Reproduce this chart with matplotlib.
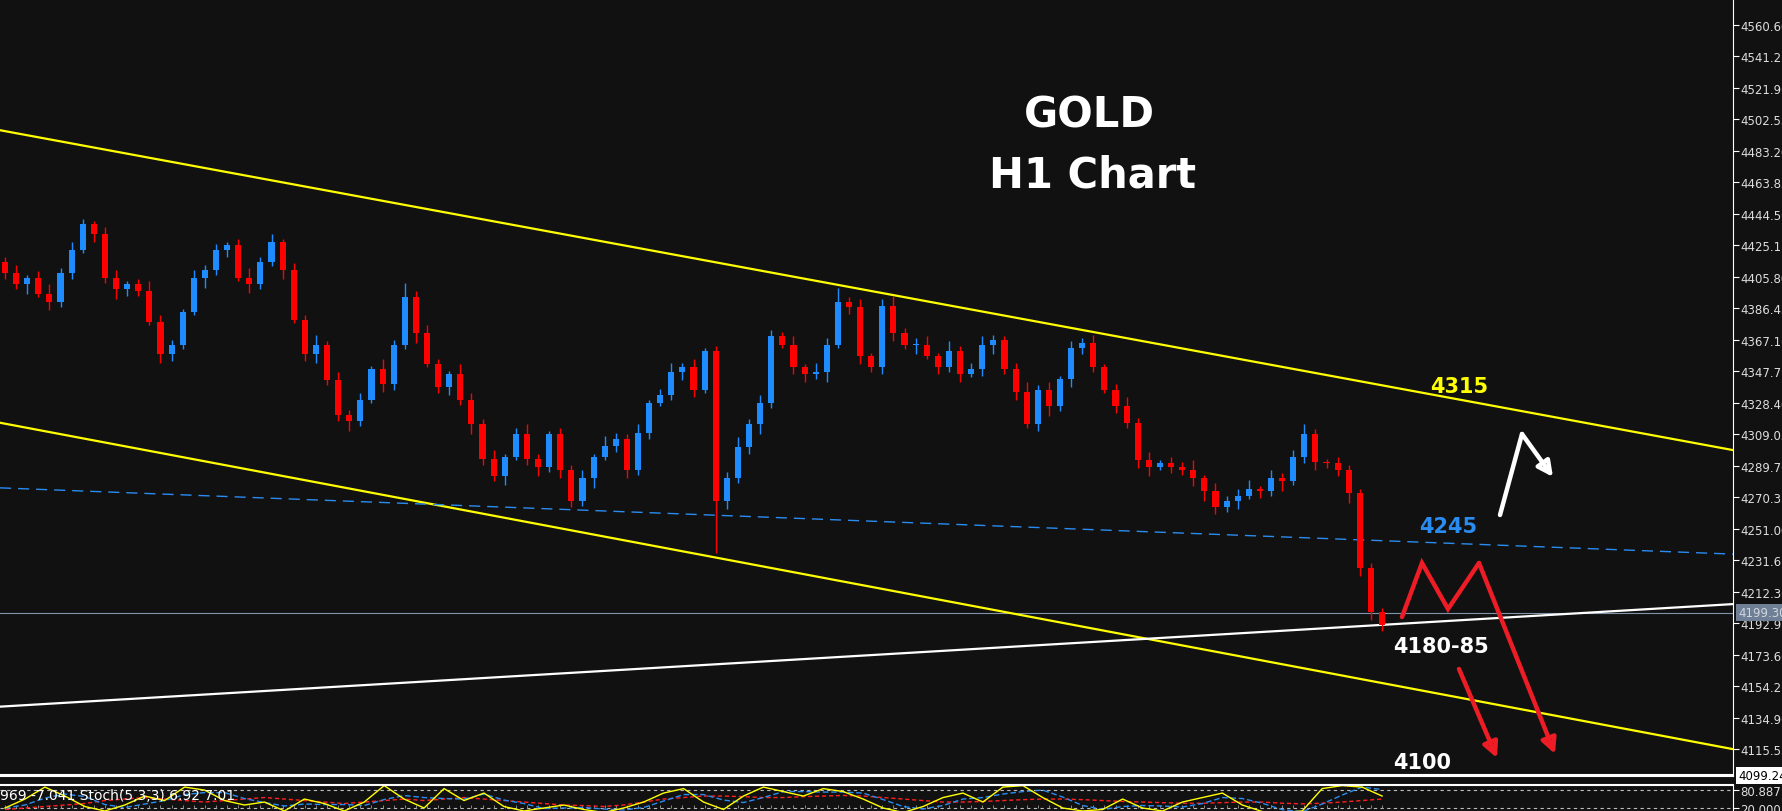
import numpy as np
import matplotlib
matplotlib.use('Agg')
import matplotlib.pyplot as plt

# ─── DATA ─────────────────────────────────────────────────────────────────────
CLOSES = [
    4408, 4401, 4405, 4395, 4390, 4408, 4422, 4438, 4432, 4405,
    4398, 4401, 4397, 4378, 4358, 4364, 4384, 4405, 4410, 4422,
    4425, 4405, 4401, 4415, 4427, 4410, 4379, 4358, 4364, 4342,
    4321, 4317, 4330, 4349, 4340, 4364, 4393, 4371, 4352, 4338,
    4346, 4330, 4315, 4294, 4283, 4295, 4309, 4294, 4289, 4309,
    4287, 4268, 4282, 4295, 4302, 4306, 4287, 4310, 4328, 4333,
    4347, 4350, 4336, 4360, 4268, 4282, 4301, 4315, 4328, 4369,
    4364, 4350, 4346, 4347, 4364, 4390, 4387, 4357, 4350, 4388,
    4371, 4364, 4364, 4357, 4350, 4360, 4346, 4349, 4364, 4367,
    4349, 4335, 4315, 4336, 4326, 4343, 4362, 4365, 4350, 4336,
    4326, 4316, 4293, 4289, 4291, 4289, 4287, 4282, 4274, 4264,
    4268, 4271, 4275, 4274, 4282, 4280, 4295, 4309, 4292, 4291,
    4287, 4273, 4227, 4200, 4192,
]
FIRST_OPEN = 4415
WICK_UP = [
    3, 5, 2, 4, 6, 3, 5, 3, 2, 4,
    5, 2, 3, 6, 4, 3, 2, 5, 3, 4,
    2, 4, 6, 3, 5, 2, 4, 3, 6, 2,
    5, 3, 4, 2, 6, 3, 9, 4, 5, 3,
    2, 6, 4, 3, 5, 2, 4, 6, 3, 2,
    4, 3, 5, 2, 6, 4, 3, 5, 2, 4,
    6, 3, 5, 2, 3, 4, 6, 3, 5, 4,
    3, 5, 2, 6, 4, 9, 3, 5, 2, 4,
    6, 3, 4, 5, 2, 6, 3, 4, 5, 3,
    2, 4, 6, 3, 5, 2, 4, 3, 5, 2,
    4, 6, 3, 5, 2, 4, 3, 6, 2, 5,
    3, 4, 6, 2, 5, 3, 4, 6, 3, 2,
    4, 3, 2, 3, 2,
]
WICK_DN = [
    4, 3, 6, 2, 5, 3, 4, 2, 5, 3,
    6, 4, 3, 2, 5, 4, 3, 2, 6, 3,
    4, 2, 5, 3, 3, 6, 2, 4, 5, 3,
    4, 6, 3, 2, 5, 4, 3, 6, 2, 4,
    5, 3, 6, 4, 3, 5, 2, 4, 6, 3,
    5, 4, 3, 6, 2, 4, 5, 3, 4, 2,
    3, 5, 4, 2, 32, 5, 3, 4, 6, 3,
    2, 4, 5, 3, 6, 2, 4, 5, 3, 4,
    5, 3, 6, 2, 4, 3, 5, 2, 4, 6,
    3, 5, 2, 4, 6, 3, 5, 4, 3, 2,
    4, 3, 5, 6, 2, 4, 3, 5, 6, 4,
    3, 5, 2, 4, 3, 6, 2, 4, 5, 3,
    4, 6, 5, 5, 4,
]

# trend lines: (price at left edge, price at right edge)
UPPER_YELLOW = (4495.7, 4299.2)
LOWER_YELLOW = (4316.0, 4115.5)
BLUE_DASHED = (4276.0, 4235.3)
WHITE_LINE = (4141.6, 4204.6)
LAST_PRICE = 4199.30
BOTTOM_PRICE = 4099.24

TICK_TOP = 4560.60
TICK_STEP = 19.35
N_TICKS = 24

STOCH_K = [
    20, 50, 90, 60, 25, 10, 30, 60, 45, 90, 80, 45, 30, 40, 10, 50, 35, 10, 40, 95,
    50, 20, 85, 45, 70, 25, 10, 20, 30, 15, 5, 20, 40, 70, 85, 40, 15, 60, 90, 75,
    60, 85, 75, 50, 20, 5, 25, 55, 70, 40, 90, 95, 55, 20, 10, 15, 50, 20, 10, 40,
    55, 70, 30, 8, 5, 10, 85, 95, 90, 60,
]
STOCH_SLOW = [
    15, 20, 25, 30, 35, 45, 50, 55, 50, 45, 40, 45, 50, 55, 50, 45, 40, 35, 40, 45,
    50, 45, 50, 55, 50, 45, 40, 35, 30, 28, 25, 30, 40, 50, 55, 60, 60, 58, 55, 55,
    58, 60, 62, 60, 55, 50, 45, 40, 40, 42, 45, 48, 50, 50, 48, 45, 42, 40, 38, 36,
    36, 38, 40, 40, 36, 34, 36, 40, 45, 50,
]
STOCH_TEXT = "969 -7.041 Stoch(5,3,3) 6.92 7.01"

# ─── STYLE ────────────────────────────────────────────────────────────────────
BG = '#111111'
UP_C = '#1e8cff'
DN_C = '#ff0000'
YEL = '#ffff00'
RED_ARROW = '#ee1c25'
W, H = 1782, 812
AX_W, AX_H = 1733, 777          # main panel size in px

fig = plt.figure(figsize=(W / 100, H / 100), dpi=100, facecolor=BG)
ax = fig.add_axes([0, 1 - AX_H / H, AX_W / W, AX_H / H], facecolor=BG)
sax = fig.add_axes([0, 0, AX_W / W, 26 / H], facecolor=BG)

n = len(CLOSES)
x = np.arange(n)
closes = np.array(CLOSES, dtype=float)
opens = np.concatenate([[FIRST_OPEN], closes[:-1]])
highs = np.maximum(opens, closes) + np.array(WICK_UP)
lows = np.minimum(opens, closes) - np.array(WICK_DN)

xlim = (-0.45, 155.6)
ax.set_xlim(*xlim)
ax.set_ylim(4099.0, 4576.3)

# trend lines
for (p0, p1), col, ls, lw in [(UPPER_YELLOW, YEL, '-', 1.6), (LOWER_YELLOW, YEL, '-', 1.6),
                              (BLUE_DASHED, '#2a8cf0', (0, (8, 5)), 1.0),
                              (WHITE_LINE, 'white', '-', 1.6)]:
    ax.plot(xlim, [p0, p1], color=col, ls=ls, lw=lw, zorder=2)

ax.axhline(LAST_PRICE, color='#7f93ad', lw=0.8, zorder=1)
ax.axhline(BOTTOM_PRICE + 0.6, color='white', lw=1.5, zorder=1)

# candles
colors = np.where(closes >= opens, UP_C, DN_C)
ax.vlines(x, lows, highs, colors=colors, lw=1.0, zorder=3)
body = np.maximum(np.abs(closes - opens), 0.6)
ax.bar(x, body, bottom=np.minimum(opens, closes), width=0.55, color=colors,
       edgecolor=colors, lw=0, zorder=4)

# right axis
ticks = [TICK_TOP - i * TICK_STEP for i in range(N_TICKS)]
ax.yaxis.tick_right()
ax.set_yticks(ticks)
ax.set_yticklabels([f"{t:.2f}" for t in ticks])
ax.tick_params(axis='y', colors='white', labelcolor='#dddddd', labelsize=8.5,
               length=4, width=0.8, pad=1)
ax.set_xticks([])
for s in ['top', 'left']:
    ax.spines[s].set_visible(False)
ax.spines['right'].set_color('white')
ax.spines['bottom'].set_color('white')
ax.spines['bottom'].set_linewidth(1.5)

for price, fc, tc in [(LAST_PRICE, '#6f8096', '#cfd6df'), (BOTTOM_PRICE, 'white', 'black')]:
    ax.text(1.003, price, f"{price:.2f}", transform=ax.get_yaxis_transform(),
            ha='left', va='center', fontsize=8.5, color=tc,
            bbox=dict(boxstyle='square,pad=0.15', fc=fc, ec='none'), zorder=6)


def af(px, py):
    # main panel pixel -> axes fraction
    return px / AX_W, 1 - py / AX_H


def path(pts, col, lw=3.2):
    xs, ys = zip(*[af(*p) for p in pts])
    ax.plot(xs[:-1], ys[:-1], color=col, lw=lw, transform=ax.transAxes,
            solid_capstyle='round', solid_joinstyle='miter', zorder=7)
    ax.annotate('', xy=(xs[-1], ys[-1]), xytext=(xs[-2], ys[-2]),
                xycoords='axes fraction', textcoords='axes fraction',
                arrowprops=dict(arrowstyle='-|>,head_length=0.9,head_width=0.45',
                                color=col, lw=lw, fill=False, shrinkA=0, shrinkB=0),
                zorder=7)


path([(1500, 516), (1522, 435), (1553, 478)], 'white')
path([(1402, 618), (1422, 564), (1448, 610), (1479, 564), (1555, 755)], RED_ARROW)
path([(1459, 670), (1497, 759)], RED_ARROW)

# labels
ax.text(*af(1089, 116), 'GOLD', transform=ax.transAxes, color='white', fontsize=30,
        fontweight='heavy', ha='center', va='center')
ax.text(*af(1093, 176), 'H1 Chart', transform=ax.transAxes, color='white', fontsize=30,
        fontweight='heavy', ha='center', va='center')
for (px, py), s, col in [((1459, 387), '4315', YEL), ((1448, 527), '4245', '#2a8cf0'),
                         ((1441, 647), '4180-85', 'white'), ((1422, 763), '4100', 'white')]:
    ax.text(*af(px, py), s, transform=ax.transAxes, color=col, fontsize=15,
            fontweight='bold', ha='center', va='center', zorder=8)

# stochastic panel
sx = np.linspace(0, n - 1, len(STOCH_K))
k = np.array(STOCH_K, dtype=float)
d = np.convolve(np.concatenate([[k[0], k[0]], k]), np.ones(3) / 3, mode='valid')
sax.set_xlim(*xlim)
sax.set_ylim(10, 97)
for lvl in (80, 20):
    sax.axhline(lvl, color='#bbbbbb', lw=0.8, ls=(0, (3, 3)))
sax.vlines(x, 20, 30, colors='#888888', lw=0.7)
sax.plot(sx, STOCH_SLOW, color='#ff2020', lw=1.0, ls=(0, (3, 2)))
sax.plot(sx, d, color='#2a8cf0', lw=1.0, ls=(0, (4, 2)))
sax.plot(sx, k, color=YEL, lw=1.0)
sax.text(0.0, 0.9, STOCH_TEXT, transform=sax.transAxes, color='white', fontsize=10,
         ha='left', va='top')
sax.set_xticks([])
sax.yaxis.tick_right()
sax.set_yticks([80, 20])
sax.set_yticklabels(['80.887', '20.000'])
sax.tick_params(axis='y', colors='white', labelcolor='#dddddd', labelsize=8.5, length=4, pad=1)
for s in ['bottom', 'left']:
    sax.spines[s].set_visible(False)
sax.spines['right'].set_color('white')
sax.spines['top'].set_color('white')
sax.spines['top'].set_linewidth(1.5)

fig.savefig('out.png', dpi=100, facecolor=BG)
